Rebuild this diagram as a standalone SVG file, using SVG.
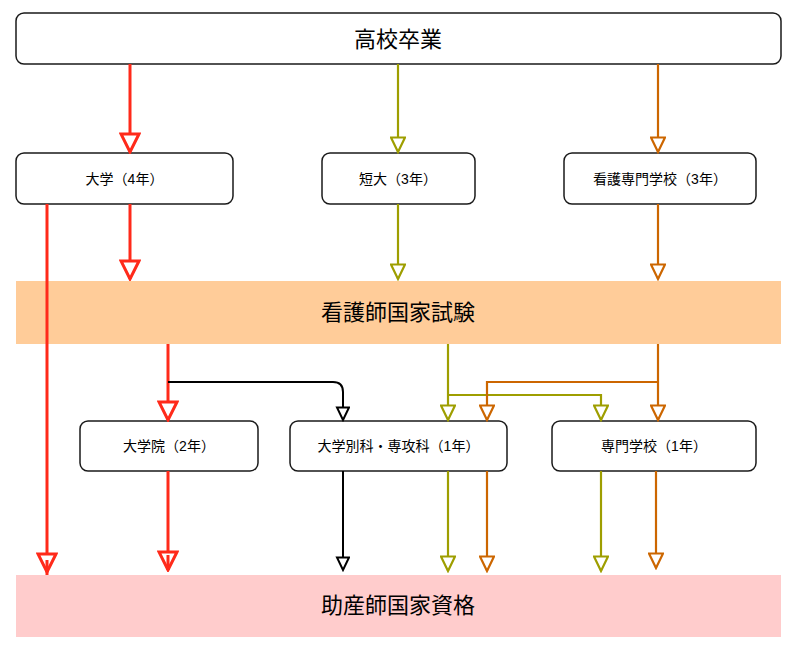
<svg xmlns="http://www.w3.org/2000/svg" width="797" height="657" viewBox="0 0 797 657">
<style>
text{font-family:"Liberation Sans","Noto Sans CJK JP",sans-serif;fill:#000;text-anchor:middle;dominant-baseline:central}
.box{fill:#fff;stroke:#1a1a1a;stroke-width:1.5}
.sm{font-size:14px}
.lg{font-size:22px}
.c{fill:none}
.r{stroke:#FF2A1A;stroke-width:3}
.o{stroke:#9E9E00;stroke-width:2.2}
.n{stroke:#CC6600;stroke-width:2.2}
.k{stroke:#000;stroke-width:2}
</style>
<defs>
<marker id="mr" markerUnits="userSpaceOnUse" markerWidth="22" markerHeight="22" viewBox="0 0 22 22" refX="20" refY="11" orient="auto"><path d="M2,2 L20,11 L2,20 Z" fill="#fff" stroke="#FF2A1A" stroke-width="3"/></marker>
<marker id="mo" markerUnits="userSpaceOnUse" markerWidth="18" markerHeight="16" viewBox="0 0 18 16" refX="16" refY="8" orient="auto"><path d="M1.5,1 L16,8 L1.5,15 Z" fill="#fff" stroke="#9E9E00" stroke-width="2.2"/></marker>
<marker id="mn" markerUnits="userSpaceOnUse" markerWidth="18" markerHeight="16" viewBox="0 0 18 16" refX="16" refY="8" orient="auto"><path d="M1.5,1 L16,8 L1.5,15 Z" fill="#fff" stroke="#CC6600" stroke-width="2.2"/></marker>
<marker id="mk" markerUnits="userSpaceOnUse" markerWidth="16" markerHeight="16" viewBox="0 0 16 16" refX="14" refY="7" orient="auto"><path d="M1.5,1 L14,7 L1.5,13 Z" fill="#fff" stroke="#000" stroke-width="2"/></marker>
</defs>
<g id="n-koko"><rect class="box" x="16" y="13" width="765" height="51" rx="8"/><text class="lg" x="398" y="39">高校卒業</text></g>
<g id="n-daigaku"><rect class="box" x="16" y="153" width="217" height="51" rx="8"/><text class="sm" x="124.5" y="179">大学（4年）</text></g>
<g id="n-tandai"><rect class="box" x="322" y="153" width="153" height="51" rx="8"/><text class="sm" x="398" y="179">短大（3年）</text></g>
<g id="n-kango"><rect class="box" x="564" y="153" width="192" height="51" rx="8"/><text class="sm" x="660" y="179">看護専門学校（3年）</text></g>
<g id="n-shiken"><rect x="16" y="281" width="765" height="63" fill="#FFCC99"/><text class="lg" x="398" y="312">看護師国家試験</text></g>
<g id="n-daigakuin"><rect class="box" x="80" y="421" width="178" height="50" rx="8"/><text class="sm" x="169" y="446">大学院（2年）</text></g>
<g id="n-bekka"><rect class="box" x="290" y="421" width="217" height="50" rx="8"/><text class="sm" x="398.5" y="446">大学別科・専攻科（1年）</text></g>
<g id="n-senmon"><rect class="box" x="552" y="421" width="204" height="50" rx="8"/><text class="sm" x="654" y="446">専門学校（1年）</text></g>
<g id="n-josanshi"><rect x="16" y="575" width="765" height="62" fill="#FFCCCC"/><text class="lg" x="398" y="605">助産師国家資格</text></g>
<g id="connectors" class="c">
<path class="r" d="M130,64 V152" marker-end="url(#mr)"/>
<path class="o" d="M398,64 V152" marker-end="url(#mo)"/>
<path class="n" d="M658,64 V152" marker-end="url(#mn)"/>
<path class="r" d="M130,204 V279" marker-end="url(#mr)"/>
<path class="o" d="M398,204 V279" marker-end="url(#mo)"/>
<path class="n" d="M658,204 V279" marker-end="url(#mn)"/>
<path class="r" d="M47,204 V572" marker-end="url(#mr)"/>
<path class="r" d="M47,560 V575"/>
<path class="r" d="M168,344 V420" marker-end="url(#mr)"/>
<path class="k" d="M168,382 H333 Q343,382 343,392 V420" marker-end="url(#mk)"/>
<path class="o" d="M448,344 V420" marker-end="url(#mo)"/>
<path class="o" d="M448,395 H601 V420" marker-end="url(#mo)"/>
<path class="n" d="M658,344 V420" marker-end="url(#mn)"/>
<path class="n" d="M658,382 H487 V420" marker-end="url(#mn)"/>
<path class="r" d="M168,471 V570" marker-end="url(#mr)"/>
<path class="r" d="M168,555 V570"/>
<path class="k" d="M343,471 V570" marker-end="url(#mk)"/>
<path class="o" d="M448,471 V571" marker-end="url(#mo)"/>
<path class="n" d="M487,471 V571" marker-end="url(#mn)"/>
<path class="o" d="M601,471 V571" marker-end="url(#mo)"/>
<path class="n" d="M656,471 V568" marker-end="url(#mn)"/>
</g>
</svg>
